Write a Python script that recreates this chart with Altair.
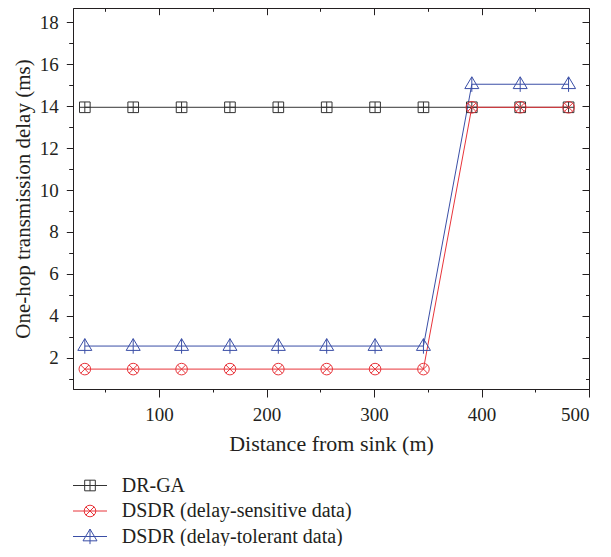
import altair as alt
import pandas as pd

# ---- data ----
x_vals = [31, 76, 121, 166, 211, 256, 301, 346, 391, 436, 481]
dr_ga = [13.95, 13.95, 13.95, 13.95, 13.95, 13.95, 13.95, 13.95, 13.95, 13.95, 13.95]
dsdr_sensitive = [1.45, 1.45, 1.45, 1.45, 1.45, 1.45, 1.45, 1.45, 13.95, 13.95, 13.95]
dsdr_tolerant = [2.55, 2.55, 2.55, 2.55, 2.55, 2.55, 2.55, 2.55, 15.05, 15.05, 15.05]

series_names = ["DR-GA", "DSDR (delay-sensitive data)", "DSDR (delay-tolerant data)"]
series_colors = ["#333333", "#e8343a", "#3a4ea6"]

x_major = [100, 200, 300, 400, 500]
x_minor = [50, 150, 250, 350, 450]
y_major = [2, 4, 6, 8, 10, 12, 14, 16, 18]
y_minor = [1, 3, 5, 7, 9, 11, 13, 15, 17]

# marker shapes (unit SVG paths)
sq_path = "M-0.76,-0.76H0.76V0.76H-0.76Z M0,-0.76V0.76 M-0.76,0H0.76"
k = 0.4584
r = 0.83
circ_path = (f"M{r},0C{r},{k} {k},{r} 0,{r}C-{k},{r} -{r},{k} -{r},0"
             f"C-{r},-{k} -{k},-{r} 0,-{r}C{k},-{r} {r},-{k} {r},0Z "
             "M-0.59,-0.59L0.59,0.59 M-0.59,0.59L0.59,-0.59")
tri_path = "M-1,0.62L0,-1.06L1,0.62Z M0,-1.06V1.09"
series_shapes = [sq_path, circ_path, tri_path]

rows = []
for name, ys in zip(series_names, [dr_ga, dsdr_sensitive, dsdr_tolerant]):
    for xv, yv in zip(x_vals, ys):
        rows.append({"series": name, "x": xv, "y": yv})
df = pd.DataFrame(rows)
legend_df = pd.DataFrame({"series": series_names, "row": [0, 1, 2]})

W, H = 516, 381
FONT = "Liberation Serif"
INK = "#231f20"

xscale = alt.Scale(domain=[20, 500], nice=False, zero=False)
yscale = alt.Scale(domain=[0.5, 18.69], nice=False, zero=False)
color = alt.Color("series:N", scale=alt.Scale(domain=series_names, range=series_colors), legend=None)
shape = alt.Shape("series:N", scale=alt.Scale(domain=series_names, range=series_shapes), legend=None)

base = alt.Chart(df)

lines = base.mark_line(strokeWidth=1).encode(
    x=alt.X("x:Q", scale=xscale,
            axis=alt.Axis(orient="bottom", values=x_major, tickSize=8, labelPadding=8,
                          title="Distance from sink (m)", titlePadding=9, format="d")),
    y=alt.Y("y:Q", scale=yscale,
            axis=alt.Axis(orient="left", values=y_major, tickSize=6.7, labelPadding=8,
                          title="One-hop transmission delay (ms)", titlePadding=6,
                          titleFontSize=21, format="d")),
    color=color,
)

points = base.mark_point(filled=False, strokeWidth=1, size=196, opacity=1).encode(
    x=alt.X("x:Q", scale=xscale, axis=None),
    y=alt.Y("y:Q", scale=yscale, axis=None),
    color=color,
    shape=shape,
)

minor_bl = base.mark_point(opacity=0).encode(
    x=alt.X("x:Q", scale=xscale,
            axis=alt.Axis(orient="bottom", values=x_minor, tickSize=3, labels=False,
                          domain=False, title=None)),
    y=alt.Y("y:Q", scale=yscale,
            axis=alt.Axis(orient="left", values=y_minor, tickSize=4.3, labels=False,
                          domain=False, title=None)),
)

major_tr = base.mark_point(opacity=0).encode(
    x=alt.X("x:Q", scale=xscale,
            axis=alt.Axis(orient="bottom", offset=-H, values=x_major, tickSize=6.7,
                          labels=False, domain=False, title=None)),
    y=alt.Y("y:Q", scale=yscale,
            axis=alt.Axis(orient="left", offset=-W, values=y_major, tickSize=7,
                          labels=False, domain=False, title=None)),
)

minor_tr = base.mark_point(opacity=0).encode(
    x=alt.X("x:Q", scale=xscale,
            axis=alt.Axis(orient="bottom", offset=-H, values=x_minor, tickSize=3.3,
                          labels=False, domain=False, title=None)),
    y=alt.Y("y:Q", scale=yscale,
            axis=alt.Axis(orient="left", offset=-W, values=y_minor, tickSize=3.5,
                          labels=False, domain=False, title=None)),
)

legend_y = alt.Y("row:Q", scale=alt.Scale(domain=[0, 2], range=[477.5, 528.5]), axis=None)
lbase = alt.Chart(legend_df)
leg_rule = lbase.mark_rule(strokeWidth=1).encode(
    x=alt.value(0), x2=alt.value(34), y=legend_y, color=color)
leg_point = lbase.mark_point(filled=False, strokeWidth=1, size=196, opacity=1).encode(
    x=alt.value(17), y=legend_y, color=color, shape=shape)
leg_text = lbase.mark_text(align="left", baseline="middle", font=FONT, fontSize=20, color=INK).encode(
    x=alt.value(48.7), y=legend_y, text="series:N")

chart = alt.layer(
    lines, points, minor_bl, major_tr, minor_tr, leg_rule, leg_point, leg_text
).resolve_scale(
    y="independent"
).resolve_axis(
    x="independent", y="independent"
).properties(
    width=W, height=H,
    autosize=alt.AutoSizeParams(type="none"),
    padding={"left": 65, "top": 0, "right": 14, "bottom": 157},
).configure_view(
    stroke=INK, strokeWidth=1
).configure_axis(
    labelFont=FONT, titleFont=FONT, labelFontSize=19, titleFontSize=22,
    titleFontWeight="normal", labelColor=INK, titleColor=INK,
    tickColor=INK, domainColor=INK, tickWidth=1, domainWidth=1, grid=False,
)

chart.save("out.html", embed_options={"renderer": "svg", "actions": False})
